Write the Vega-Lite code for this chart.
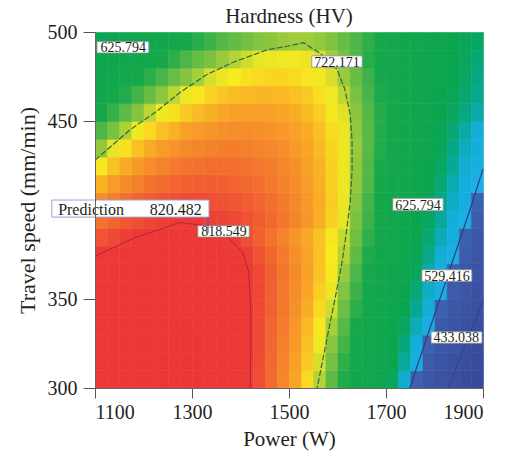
{
  "$schema": "https://vega.github.io/schema/vega-lite/v6.json",
  "width": 388,
  "height": 356,
  "autosize": {"type": "none"},
  "padding": {"left": 95, "top": 32, "right": 27, "bottom": 74},
  "title": {"text": "Hardness (HV)", "font": "Liberation Serif", "fontSize": 21, "fontWeight": "normal", "color": "#231f20", "offset": -5},
  "config": {
    "view": {"stroke": null},
    "axis": {"labelFont": "Liberation Serif", "titleFont": "Liberation Serif", "labelFontSize": 20, "titleFontSize": 21, "titleFontWeight": "normal", "labelColor": "#231f20", "titleColor": "#231f20", "tickColor": "#555555", "domainColor": "#666666", "grid": false},
    "axisX": {"tickSize": 10, "labelPadding": 4, "titlePadding": 6},
    "axisY": {"tickSize": 12, "labelPadding": 6, "titlePadding": 8, "titleFontSize": 22}
  },
  "datasets": {
    "grid": [
{"p":1100,"s":300,"h":821},{"p":1125,"s":300,"h":822},{"p":1150,"s":300,"h":823},{"p":1175,"s":300,"h":824},{"p":1200,"s":300,"h":824},{"p":1225,"s":300,"h":825},{"p":1250,"s":300,"h":825},{"p":1275,"s":300,"h":825},{"p":1300,"s":300,"h":825},{"p":1325,"s":300,"h":824},{"p":1350,"s":300,"h":823},{"p":1375,"s":300,"h":821},{"p":1400,"s":300,"h":819},{"p":1425,"s":300,"h":806},{"p":1450,"s":300,"h":790},{"p":1475,"s":300,"h":773},{"p":1500,"s":300,"h":756},{"p":1525,"s":300,"h":739},{"p":1550,"s":300,"h":722},{"p":1575,"s":300,"h":705},{"p":1600,"s":300,"h":688},{"p":1625,"s":300,"h":670},{"p":1650,"s":300,"h":653},{"p":1675,"s":300,"h":636},{"p":1700,"s":300,"h":609},{"p":1725,"s":300,"h":563},{"p":1750,"s":300,"h":522},{"p":1775,"s":300,"h":491},{"p":1800,"s":300,"h":461},{"p":1825,"s":300,"h":431},{"p":1850,"s":300,"h":400},{"p":1875,"s":300,"h":370},
{"p":1100,"s":310,"h":821},{"p":1125,"s":310,"h":822},{"p":1150,"s":310,"h":823},{"p":1175,"s":310,"h":824},{"p":1200,"s":310,"h":824},{"p":1225,"s":310,"h":825},{"p":1250,"s":310,"h":825},{"p":1275,"s":310,"h":825},{"p":1300,"s":310,"h":825},{"p":1325,"s":310,"h":824},{"p":1350,"s":310,"h":823},{"p":1375,"s":310,"h":821},{"p":1400,"s":310,"h":819},{"p":1425,"s":310,"h":807},{"p":1450,"s":310,"h":791},{"p":1475,"s":310,"h":775},{"p":1500,"s":310,"h":759},{"p":1525,"s":310,"h":743},{"p":1550,"s":310,"h":726},{"p":1575,"s":310,"h":710},{"p":1600,"s":310,"h":692},{"p":1625,"s":310,"h":675},{"p":1650,"s":310,"h":657},{"p":1675,"s":310,"h":640},{"p":1700,"s":310,"h":622},{"p":1725,"s":310,"h":582},{"p":1750,"s":310,"h":543},{"p":1775,"s":310,"h":510},{"p":1800,"s":310,"h":479},{"p":1825,"s":310,"h":449},{"p":1850,"s":310,"h":418},{"p":1875,"s":310,"h":388},
{"p":1100,"s":320,"h":821},{"p":1125,"s":320,"h":822},{"p":1150,"s":320,"h":823},{"p":1175,"s":320,"h":824},{"p":1200,"s":320,"h":824},{"p":1225,"s":320,"h":825},{"p":1250,"s":320,"h":825},{"p":1275,"s":320,"h":825},{"p":1300,"s":320,"h":825},{"p":1325,"s":320,"h":824},{"p":1350,"s":320,"h":823},{"p":1375,"s":320,"h":821},{"p":1400,"s":320,"h":819},{"p":1425,"s":320,"h":808},{"p":1450,"s":320,"h":792},{"p":1475,"s":320,"h":777},{"p":1500,"s":320,"h":762},{"p":1525,"s":320,"h":746},{"p":1550,"s":320,"h":731},{"p":1575,"s":320,"h":715},{"p":1600,"s":320,"h":698},{"p":1625,"s":320,"h":680},{"p":1650,"s":320,"h":663},{"p":1675,"s":320,"h":646},{"p":1700,"s":320,"h":628},{"p":1725,"s":320,"h":595},{"p":1750,"s":320,"h":557},{"p":1775,"s":320,"h":521},{"p":1800,"s":320,"h":493},{"p":1825,"s":320,"h":465},{"p":1850,"s":320,"h":436},{"p":1875,"s":320,"h":407},
{"p":1100,"s":330,"h":820},{"p":1125,"s":330,"h":821},{"p":1150,"s":330,"h":822},{"p":1175,"s":330,"h":823},{"p":1200,"s":330,"h":824},{"p":1225,"s":330,"h":824},{"p":1250,"s":330,"h":825},{"p":1275,"s":330,"h":825},{"p":1300,"s":330,"h":824},{"p":1325,"s":330,"h":824},{"p":1350,"s":330,"h":823},{"p":1375,"s":330,"h":821},{"p":1400,"s":330,"h":819},{"p":1425,"s":330,"h":808},{"p":1450,"s":330,"h":793},{"p":1475,"s":330,"h":779},{"p":1500,"s":330,"h":764},{"p":1525,"s":330,"h":749},{"p":1550,"s":330,"h":735},{"p":1575,"s":330,"h":720},{"p":1600,"s":330,"h":703},{"p":1625,"s":330,"h":685},{"p":1650,"s":330,"h":668},{"p":1675,"s":330,"h":651},{"p":1700,"s":330,"h":633},{"p":1725,"s":330,"h":607},{"p":1750,"s":330,"h":572},{"p":1775,"s":330,"h":536},{"p":1800,"s":330,"h":507},{"p":1825,"s":330,"h":480},{"p":1850,"s":330,"h":452},{"p":1875,"s":330,"h":425},
{"p":1100,"s":340,"h":820},{"p":1125,"s":340,"h":821},{"p":1150,"s":340,"h":822},{"p":1175,"s":340,"h":823},{"p":1200,"s":340,"h":823},{"p":1225,"s":340,"h":824},{"p":1250,"s":340,"h":824},{"p":1275,"s":340,"h":824},{"p":1300,"s":340,"h":824},{"p":1325,"s":340,"h":823},{"p":1350,"s":340,"h":822},{"p":1375,"s":340,"h":821},{"p":1400,"s":340,"h":819},{"p":1425,"s":340,"h":808},{"p":1450,"s":340,"h":795},{"p":1475,"s":340,"h":781},{"p":1500,"s":340,"h":767},{"p":1525,"s":340,"h":753},{"p":1550,"s":340,"h":739},{"p":1575,"s":340,"h":725},{"p":1600,"s":340,"h":708},{"p":1625,"s":340,"h":691},{"p":1650,"s":340,"h":673},{"p":1675,"s":340,"h":656},{"p":1700,"s":340,"h":638},{"p":1725,"s":340,"h":618},{"p":1750,"s":340,"h":585},{"p":1775,"s":340,"h":552},{"p":1800,"s":340,"h":521},{"p":1825,"s":340,"h":494},{"p":1850,"s":340,"h":467},{"p":1875,"s":340,"h":440},
{"p":1100,"s":350,"h":820},{"p":1125,"s":350,"h":821},{"p":1150,"s":350,"h":822},{"p":1175,"s":350,"h":822},{"p":1200,"s":350,"h":823},{"p":1225,"s":350,"h":823},{"p":1250,"s":350,"h":824},{"p":1275,"s":350,"h":824},{"p":1300,"s":350,"h":823},{"p":1325,"s":350,"h":823},{"p":1350,"s":350,"h":822},{"p":1375,"s":350,"h":821},{"p":1400,"s":350,"h":819},{"p":1425,"s":350,"h":809},{"p":1450,"s":350,"h":796},{"p":1475,"s":350,"h":782},{"p":1500,"s":350,"h":769},{"p":1525,"s":350,"h":756},{"p":1550,"s":350,"h":742},{"p":1575,"s":350,"h":729},{"p":1600,"s":350,"h":714},{"p":1625,"s":350,"h":696},{"p":1650,"s":350,"h":678},{"p":1675,"s":350,"h":661},{"p":1700,"s":350,"h":643},{"p":1725,"s":350,"h":626},{"p":1750,"s":350,"h":596},{"p":1775,"s":350,"h":566},{"p":1800,"s":350,"h":535},{"p":1825,"s":350,"h":508},{"p":1850,"s":350,"h":482},{"p":1875,"s":350,"h":456},
{"p":1100,"s":360,"h":819},{"p":1125,"s":360,"h":820},{"p":1150,"s":360,"h":821},{"p":1175,"s":360,"h":822},{"p":1200,"s":360,"h":822},{"p":1225,"s":360,"h":823},{"p":1250,"s":360,"h":823},{"p":1275,"s":360,"h":823},{"p":1300,"s":360,"h":823},{"p":1325,"s":360,"h":822},{"p":1350,"s":360,"h":822},{"p":1375,"s":360,"h":821},{"p":1400,"s":360,"h":819},{"p":1425,"s":360,"h":809},{"p":1450,"s":360,"h":796},{"p":1475,"s":360,"h":783},{"p":1500,"s":360,"h":771},{"p":1525,"s":360,"h":758},{"p":1550,"s":360,"h":745},{"p":1575,"s":360,"h":732},{"p":1600,"s":360,"h":718},{"p":1625,"s":360,"h":700},{"p":1650,"s":360,"h":683},{"p":1675,"s":360,"h":666},{"p":1700,"s":360,"h":648},{"p":1725,"s":360,"h":631},{"p":1750,"s":360,"h":606},{"p":1775,"s":360,"h":578},{"p":1800,"s":360,"h":549},{"p":1825,"s":360,"h":522},{"p":1850,"s":360,"h":496},{"p":1875,"s":360,"h":471},
{"p":1100,"s":370,"h":817},{"p":1125,"s":370,"h":819},{"p":1150,"s":370,"h":820},{"p":1175,"s":370,"h":821},{"p":1200,"s":370,"h":821},{"p":1225,"s":370,"h":822},{"p":1250,"s":370,"h":822},{"p":1275,"s":370,"h":822},{"p":1300,"s":370,"h":822},{"p":1325,"s":370,"h":821},{"p":1350,"s":370,"h":820},{"p":1375,"s":370,"h":819},{"p":1400,"s":370,"h":815},{"p":1425,"s":370,"h":803},{"p":1450,"s":370,"h":792},{"p":1475,"s":370,"h":780},{"p":1500,"s":370,"h":768},{"p":1525,"s":370,"h":757},{"p":1550,"s":370,"h":745},{"p":1575,"s":370,"h":734},{"p":1600,"s":370,"h":722},{"p":1625,"s":370,"h":705},{"p":1650,"s":370,"h":687},{"p":1675,"s":370,"h":670},{"p":1700,"s":370,"h":653},{"p":1725,"s":370,"h":635},{"p":1750,"s":370,"h":615},{"p":1775,"s":370,"h":588},{"p":1800,"s":370,"h":561},{"p":1825,"s":370,"h":534},{"p":1850,"s":370,"h":509},{"p":1875,"s":370,"h":484},
{"p":1100,"s":380,"h":802},{"p":1125,"s":380,"h":808},{"p":1150,"s":380,"h":813},{"p":1175,"s":380,"h":817},{"p":1200,"s":380,"h":819},{"p":1225,"s":380,"h":820},{"p":1250,"s":380,"h":821},{"p":1275,"s":380,"h":821},{"p":1300,"s":380,"h":821},{"p":1325,"s":380,"h":820},{"p":1350,"s":380,"h":819},{"p":1375,"s":380,"h":816},{"p":1400,"s":380,"h":805},{"p":1425,"s":380,"h":795},{"p":1450,"s":380,"h":785},{"p":1475,"s":380,"h":775},{"p":1500,"s":380,"h":765},{"p":1525,"s":380,"h":755},{"p":1550,"s":380,"h":745},{"p":1575,"s":380,"h":735},{"p":1600,"s":380,"h":724},{"p":1625,"s":380,"h":709},{"p":1650,"s":380,"h":692},{"p":1675,"s":380,"h":674},{"p":1700,"s":380,"h":657},{"p":1725,"s":380,"h":640},{"p":1750,"s":380,"h":622},{"p":1775,"s":380,"h":597},{"p":1800,"s":380,"h":571},{"p":1825,"s":380,"h":546},{"p":1850,"s":380,"h":521},{"p":1875,"s":380,"h":496},
{"p":1100,"s":390,"h":785},{"p":1125,"s":390,"h":793},{"p":1150,"s":390,"h":800},{"p":1175,"s":390,"h":806},{"p":1200,"s":390,"h":810},{"p":1225,"s":390,"h":813},{"p":1250,"s":390,"h":815},{"p":1275,"s":390,"h":816},{"p":1300,"s":390,"h":816},{"p":1325,"s":390,"h":814},{"p":1350,"s":390,"h":812},{"p":1375,"s":390,"h":808},{"p":1400,"s":390,"h":803},{"p":1425,"s":390,"h":798},{"p":1450,"s":390,"h":791},{"p":1475,"s":390,"h":783},{"p":1500,"s":390,"h":774},{"p":1525,"s":390,"h":764},{"p":1550,"s":390,"h":753},{"p":1575,"s":390,"h":741},{"p":1600,"s":390,"h":728},{"p":1625,"s":390,"h":712},{"p":1650,"s":390,"h":696},{"p":1675,"s":390,"h":679},{"p":1700,"s":390,"h":662},{"p":1725,"s":390,"h":645},{"p":1750,"s":390,"h":628},{"p":1775,"s":390,"h":605},{"p":1800,"s":390,"h":582},{"p":1825,"s":390,"h":558},{"p":1850,"s":390,"h":534},{"p":1875,"s":390,"h":509},
{"p":1100,"s":400,"h":769},{"p":1125,"s":400,"h":778},{"p":1150,"s":400,"h":786},{"p":1175,"s":400,"h":793},{"p":1200,"s":400,"h":798},{"p":1225,"s":400,"h":802},{"p":1250,"s":400,"h":805},{"p":1275,"s":400,"h":807},{"p":1300,"s":400,"h":807},{"p":1325,"s":400,"h":806},{"p":1350,"s":400,"h":804},{"p":1375,"s":400,"h":801},{"p":1400,"s":400,"h":798},{"p":1425,"s":400,"h":793},{"p":1450,"s":400,"h":787},{"p":1475,"s":400,"h":780},{"p":1500,"s":400,"h":772},{"p":1525,"s":400,"h":763},{"p":1550,"s":400,"h":753},{"p":1575,"s":400,"h":742},{"p":1600,"s":400,"h":729},{"p":1625,"s":400,"h":715},{"p":1650,"s":400,"h":698},{"p":1675,"s":400,"h":682},{"p":1700,"s":400,"h":665},{"p":1725,"s":400,"h":649},{"p":1750,"s":400,"h":632},{"p":1775,"s":400,"h":613},{"p":1800,"s":400,"h":590},{"p":1825,"s":400,"h":567},{"p":1850,"s":400,"h":544},{"p":1875,"s":400,"h":521},
{"p":1100,"s":410,"h":751},{"p":1125,"s":410,"h":761},{"p":1150,"s":410,"h":770},{"p":1175,"s":410,"h":777},{"p":1200,"s":410,"h":784},{"p":1225,"s":410,"h":789},{"p":1250,"s":410,"h":793},{"p":1275,"s":410,"h":795},{"p":1300,"s":410,"h":797},{"p":1325,"s":410,"h":797},{"p":1350,"s":410,"h":796},{"p":1375,"s":410,"h":794},{"p":1400,"s":410,"h":791},{"p":1425,"s":410,"h":787},{"p":1450,"s":410,"h":782},{"p":1475,"s":410,"h":776},{"p":1500,"s":410,"h":769},{"p":1525,"s":410,"h":761},{"p":1550,"s":410,"h":752},{"p":1575,"s":410,"h":741},{"p":1600,"s":410,"h":730},{"p":1625,"s":410,"h":717},{"p":1650,"s":410,"h":701},{"p":1675,"s":410,"h":685},{"p":1700,"s":410,"h":669},{"p":1725,"s":410,"h":653},{"p":1750,"s":410,"h":637},{"p":1775,"s":410,"h":619},{"p":1800,"s":410,"h":597},{"p":1825,"s":410,"h":575},{"p":1850,"s":410,"h":553},{"p":1875,"s":410,"h":532},
{"p":1100,"s":420,"h":735},{"p":1125,"s":420,"h":745},{"p":1150,"s":420,"h":754},{"p":1175,"s":420,"h":762},{"p":1200,"s":420,"h":769},{"p":1225,"s":420,"h":775},{"p":1250,"s":420,"h":780},{"p":1275,"s":420,"h":784},{"p":1300,"s":420,"h":786},{"p":1325,"s":420,"h":788},{"p":1350,"s":420,"h":788},{"p":1375,"s":420,"h":787},{"p":1400,"s":420,"h":785},{"p":1425,"s":420,"h":782},{"p":1450,"s":420,"h":778},{"p":1475,"s":420,"h":773},{"p":1500,"s":420,"h":767},{"p":1525,"s":420,"h":759},{"p":1550,"s":420,"h":751},{"p":1575,"s":420,"h":741},{"p":1600,"s":420,"h":730},{"p":1625,"s":420,"h":717},{"p":1650,"s":420,"h":702},{"p":1675,"s":420,"h":686},{"p":1700,"s":420,"h":671},{"p":1725,"s":420,"h":656},{"p":1750,"s":420,"h":640},{"p":1775,"s":420,"h":625},{"p":1800,"s":420,"h":604},{"p":1825,"s":420,"h":583},{"p":1850,"s":420,"h":562},{"p":1875,"s":420,"h":541},
{"p":1100,"s":430,"h":717},{"p":1125,"s":430,"h":728},{"p":1150,"s":430,"h":737},{"p":1175,"s":430,"h":746},{"p":1200,"s":430,"h":754},{"p":1225,"s":430,"h":761},{"p":1250,"s":430,"h":766},{"p":1275,"s":430,"h":771},{"p":1300,"s":430,"h":774},{"p":1325,"s":430,"h":776},{"p":1350,"s":430,"h":778},{"p":1375,"s":430,"h":778},{"p":1400,"s":430,"h":777},{"p":1425,"s":430,"h":775},{"p":1450,"s":430,"h":772},{"p":1475,"s":430,"h":768},{"p":1500,"s":430,"h":762},{"p":1525,"s":430,"h":756},{"p":1550,"s":430,"h":748},{"p":1575,"s":430,"h":740},{"p":1600,"s":430,"h":730},{"p":1625,"s":430,"h":718},{"p":1650,"s":430,"h":703},{"p":1675,"s":430,"h":688},{"p":1700,"s":430,"h":674},{"p":1725,"s":430,"h":659},{"p":1750,"s":430,"h":644},{"p":1775,"s":430,"h":629},{"p":1800,"s":430,"h":610},{"p":1825,"s":430,"h":590},{"p":1850,"s":430,"h":570},{"p":1875,"s":430,"h":550},
{"p":1100,"s":440,"h":700},{"p":1125,"s":440,"h":711},{"p":1150,"s":440,"h":721},{"p":1175,"s":440,"h":731},{"p":1200,"s":440,"h":739},{"p":1225,"s":440,"h":746},{"p":1250,"s":440,"h":752},{"p":1275,"s":440,"h":758},{"p":1300,"s":440,"h":762},{"p":1325,"s":440,"h":765},{"p":1350,"s":440,"h":767},{"p":1375,"s":440,"h":769},{"p":1400,"s":440,"h":769},{"p":1425,"s":440,"h":768},{"p":1450,"s":440,"h":766},{"p":1475,"s":440,"h":763},{"p":1500,"s":440,"h":758},{"p":1525,"s":440,"h":753},{"p":1550,"s":440,"h":746},{"p":1575,"s":440,"h":738},{"p":1600,"s":440,"h":729},{"p":1625,"s":440,"h":717},{"p":1650,"s":440,"h":703},{"p":1675,"s":440,"h":689},{"p":1700,"s":440,"h":675},{"p":1725,"s":440,"h":661},{"p":1750,"s":440,"h":647},{"p":1775,"s":440,"h":633},{"p":1800,"s":440,"h":615},{"p":1825,"s":440,"h":597},{"p":1850,"s":440,"h":579},{"p":1875,"s":440,"h":561},
{"p":1100,"s":450,"h":682},{"p":1125,"s":450,"h":694},{"p":1150,"s":450,"h":704},{"p":1175,"s":450,"h":714},{"p":1200,"s":450,"h":723},{"p":1225,"s":450,"h":731},{"p":1250,"s":450,"h":737},{"p":1275,"s":450,"h":743},{"p":1300,"s":450,"h":748},{"p":1325,"s":450,"h":752},{"p":1350,"s":450,"h":755},{"p":1375,"s":450,"h":758},{"p":1400,"s":450,"h":759},{"p":1425,"s":450,"h":759},{"p":1450,"s":450,"h":758},{"p":1475,"s":450,"h":756},{"p":1500,"s":450,"h":753},{"p":1525,"s":450,"h":748},{"p":1550,"s":450,"h":742},{"p":1575,"s":450,"h":735},{"p":1600,"s":450,"h":727},{"p":1625,"s":450,"h":716},{"p":1650,"s":450,"h":702},{"p":1675,"s":450,"h":689},{"p":1700,"s":450,"h":676},{"p":1725,"s":450,"h":663},{"p":1750,"s":450,"h":649},{"p":1775,"s":450,"h":636},{"p":1800,"s":450,"h":623},{"p":1825,"s":450,"h":608},{"p":1850,"s":450,"h":592},{"p":1875,"s":450,"h":577},
{"p":1100,"s":460,"h":665},{"p":1125,"s":460,"h":677},{"p":1150,"s":460,"h":688},{"p":1175,"s":460,"h":698},{"p":1200,"s":460,"h":707},{"p":1225,"s":460,"h":716},{"p":1250,"s":460,"h":723},{"p":1275,"s":460,"h":730},{"p":1300,"s":460,"h":735},{"p":1325,"s":460,"h":740},{"p":1350,"s":460,"h":744},{"p":1375,"s":460,"h":747},{"p":1400,"s":460,"h":749},{"p":1425,"s":460,"h":750},{"p":1450,"s":460,"h":750},{"p":1475,"s":460,"h":749},{"p":1500,"s":460,"h":746},{"p":1525,"s":460,"h":743},{"p":1550,"s":460,"h":737},{"p":1575,"s":460,"h":731},{"p":1600,"s":460,"h":723},{"p":1625,"s":460,"h":711},{"p":1650,"s":460,"h":699},{"p":1675,"s":460,"h":687},{"p":1700,"s":460,"h":675},{"p":1725,"s":460,"h":663},{"p":1750,"s":460,"h":650},{"p":1775,"s":460,"h":638},{"p":1800,"s":460,"h":626},{"p":1825,"s":460,"h":613},{"p":1850,"s":460,"h":600},{"p":1875,"s":460,"h":586},
{"p":1100,"s":470,"h":647},{"p":1125,"s":470,"h":659},{"p":1150,"s":470,"h":671},{"p":1175,"s":470,"h":681},{"p":1200,"s":470,"h":691},{"p":1225,"s":470,"h":699},{"p":1250,"s":470,"h":707},{"p":1275,"s":470,"h":714},{"p":1300,"s":470,"h":720},{"p":1325,"s":470,"h":726},{"p":1350,"s":470,"h":730},{"p":1375,"s":470,"h":734},{"p":1400,"s":470,"h":737},{"p":1425,"s":470,"h":739},{"p":1450,"s":470,"h":740},{"p":1475,"s":470,"h":740},{"p":1500,"s":470,"h":739},{"p":1525,"s":470,"h":736},{"p":1550,"s":470,"h":732},{"p":1575,"s":470,"h":726},{"p":1600,"s":470,"h":718},{"p":1625,"s":470,"h":707},{"p":1650,"s":470,"h":696},{"p":1675,"s":470,"h":685},{"p":1700,"s":470,"h":674},{"p":1725,"s":470,"h":663},{"p":1750,"s":470,"h":652},{"p":1775,"s":470,"h":640},{"p":1800,"s":470,"h":629},{"p":1825,"s":470,"h":617},{"p":1850,"s":470,"h":604},{"p":1875,"s":470,"h":591},
{"p":1100,"s":480,"h":630},{"p":1125,"s":480,"h":643},{"p":1150,"s":480,"h":654},{"p":1175,"s":480,"h":665},{"p":1200,"s":480,"h":675},{"p":1225,"s":480,"h":684},{"p":1250,"s":480,"h":692},{"p":1275,"s":480,"h":700},{"p":1300,"s":480,"h":707},{"p":1325,"s":480,"h":712},{"p":1350,"s":480,"h":718},{"p":1375,"s":480,"h":722},{"p":1400,"s":480,"h":725},{"p":1425,"s":480,"h":728},{"p":1450,"s":480,"h":730},{"p":1475,"s":480,"h":731},{"p":1500,"s":480,"h":731},{"p":1525,"s":480,"h":729},{"p":1550,"s":480,"h":726},{"p":1575,"s":480,"h":719},{"p":1600,"s":480,"h":710},{"p":1625,"s":480,"h":700},{"p":1650,"s":480,"h":690},{"p":1675,"s":480,"h":680},{"p":1700,"s":480,"h":671},{"p":1725,"s":480,"h":661},{"p":1750,"s":480,"h":651},{"p":1775,"s":480,"h":641},{"p":1800,"s":480,"h":632},{"p":1825,"s":480,"h":621},{"p":1850,"s":480,"h":609},{"p":1875,"s":480,"h":596},
{"p":1100,"s":490,"h":612},{"p":1125,"s":490,"h":625},{"p":1150,"s":490,"h":636},{"p":1175,"s":490,"h":647},{"p":1200,"s":490,"h":657},{"p":1225,"s":490,"h":666},{"p":1250,"s":490,"h":675},{"p":1275,"s":490,"h":683},{"p":1300,"s":490,"h":690},{"p":1325,"s":490,"h":696},{"p":1350,"s":490,"h":702},{"p":1375,"s":490,"h":706},{"p":1400,"s":490,"h":710},{"p":1425,"s":490,"h":714},{"p":1450,"s":490,"h":716},{"p":1475,"s":490,"h":718},{"p":1500,"s":490,"h":719},{"p":1525,"s":490,"h":719},{"p":1550,"s":490,"h":717},{"p":1575,"s":490,"h":713},{"p":1600,"s":490,"h":707},{"p":1625,"s":490,"h":700},{"p":1650,"s":490,"h":692},{"p":1675,"s":490,"h":683},{"p":1700,"s":490,"h":674},{"p":1725,"s":490,"h":665},{"p":1750,"s":490,"h":655},{"p":1775,"s":490,"h":645},{"p":1800,"s":490,"h":635},{"p":1825,"s":490,"h":625},{"p":1850,"s":490,"h":614},{"p":1875,"s":490,"h":603}
    ],
    "c818": [{"p":1100,"s":374,"o":1},{"p":1178,"s":384,"o":2},{"p":1275,"s":393,"o":3},{"p":1331,"s":391,"o":4},{"p":1372,"s":385,"o":5},{"p":1405,"s":376,"o":6},{"p":1417,"s":365,"o":7},{"p":1421,"s":345,"o":8},{"p":1421,"s":320,"o":9},{"p":1420,"s":300,"o":10}],
    "c722": [{"p":1100,"s":428,"o":1},{"p":1172,"s":445,"o":2},{"p":1230,"s":456,"o":3},{"p":1275,"s":466,"o":4},{"p":1330,"s":476,"o":5},{"p":1385,"s":483,"o":6},{"p":1455,"s":490,"o":7},{"p":1496,"s":492,"o":8},{"p":1530,"s":494,"o":9},{"p":1564,"s":488,"o":10},{"p":1599,"s":479,"o":11},{"p":1615,"s":468,"o":12},{"p":1626,"s":454,"o":13},{"p":1630,"s":439,"o":14},{"p":1630,"s":422,"o":15},{"p":1626,"s":404,"o":16},{"p":1618,"s":387,"o":17},{"p":1609,"s":370,"o":18},{"p":1597,"s":353,"o":19},{"p":1585,"s":337,"o":20},{"p":1572,"s":319,"o":21},{"p":1558,"s":300,"o":22}],
    "c529": [{"p":1749,"s":300,"o":1},{"p":1811,"s":350,"o":2},{"p":1873,"s":400,"o":3},{"p":1900,"s":423,"o":4}],
    "c433": [{"p":1828,"s":300,"o":1},{"p":1900,"s":349,"o":2}],
    "labels": [
      {"t":"625.794","p":1158,"s":491.3,"p1":1104,"p2":1211,"s1":488.2,"s2":494.6},
      {"t":"722.171","p":1599,"s":483.4,"p1":1547,"p2":1651,"s1":480.2,"s2":486.6},
      {"t":"625.794","p":1766,"s":403,"p1":1714,"p2":1818,"s1":399.6,"s2":406.6},
      {"t":"529.416","p":1826,"s":363,"p1":1774,"p2":1877,"s1":359.8,"s2":366.4},
      {"t":"433.038","p":1845,"s":328.4,"p1":1793,"p2":1898,"s1":325.2,"s2":331.6},
      {"t":"818.549","p":1366,"s":388,"p1":1312,"p2":1418,"s1":384.8,"s2":391.2}
    ],
    "pred": [{"p1":1011,"p2":1335,"s1":396,"s2":405.6}],
    "predtext": [{"t":"Prediction","p":1024,"s":400.6},{"t":"820.482","p":1213,"s":400.6}],
    "marker": [{"p":1333,"s":396,"s2":387}]
  },
  "layer": [
    {
      "data": {"name": "grid"},
      "mark": {"type": "rect", "binSpacing": 0, "strokeWidth": 0.6},
      "encoding": {
        "x": {"field": "p", "type": "quantitative", "bin": {"binned": true, "step": 25}, "title": "Power (W)",
              "scale": {"domain": [1100, 1900], "nice": false, "zero": false},
              "axis": {"values": [1100, 1300, 1500, 1700, 1900], "format": "d"}},
        "y": {"field": "s", "type": "quantitative", "bin": {"binned": true, "step": 10}, "title": "Travel speed (mm/min)",
              "scale": {"domain": [300, 500], "nice": false, "zero": false},
              "axis": {"values": [300, 350, 450, 500], "format": "d"}},
        "color": {"field": "h", "type": "quantitative", "legend": null,
                  "scale": {"domain": [370,433,500,529,531,560,585,605,620,685,700,716,722,728,734,744,756,772,792,806,816,830],
                            "range": ["#394a9a","#3a4f9f","#3b58a7","#3d64b0","#1baee5","#12aed8","#07a893","#08a660","#0ba54f","#16a84b","#4cb648","#8cc63f","#b5d334","#e8e426","#f8eb1e","#f9c623","#f8a526","#f5882b","#f2672f","#ef4d34","#ec3b36","#ec3537"],
                            "interpolate": "rgb"}},
        "stroke": {"field": "h", "type": "quantitative", "legend": null,
                  "scale": {"domain": [370,433,500,529,531,560,585,605,620,685,700,716,722,728,734,744,756,772,792,806,816,830],
                            "range": ["#394a9a","#3a4f9f","#3b58a7","#3d64b0","#1baee5","#12aed8","#07a893","#08a660","#0ba54f","#16a84b","#4cb648","#8cc63f","#b5d334","#e8e426","#f8eb1e","#f9c623","#f8a526","#f5882b","#f2672f","#ef4d34","#ec3b36","#ec3537"],
                            "interpolate": "rgb"}}
      }
    },
    {
      "data": {"name": "c818"},
      "mark": {"type": "line", "color": "#b5223a", "strokeWidth": 1},
      "encoding": {"x": {"field": "p", "type": "quantitative", "title": "Power (W)"}, "y": {"field": "s", "type": "quantitative", "title": "Travel speed (mm/min)"}, "order": {"field": "o"}}
    },
    {
      "data": {"name": "c722"},
      "mark": {"type": "line", "color": "#2b6b45", "strokeWidth": 1.2, "strokeDash": [6, 2]},
      "encoding": {"x": {"field": "p", "type": "quantitative", "title": "Power (W)"}, "y": {"field": "s", "type": "quantitative", "title": "Travel speed (mm/min)"}, "order": {"field": "o"}}
    },
    {
      "data": {"name": "c529"},
      "mark": {"type": "line", "color": "#27408d", "strokeWidth": 1.2},
      "encoding": {"x": {"field": "p", "type": "quantitative", "title": "Power (W)"}, "y": {"field": "s", "type": "quantitative", "title": "Travel speed (mm/min)"}, "order": {"field": "o"}}
    },
    {
      "data": {"name": "c433"},
      "mark": {"type": "line", "color": "#2e4290", "strokeWidth": 1},
      "encoding": {"x": {"field": "p", "type": "quantitative", "title": "Power (W)"}, "y": {"field": "s", "type": "quantitative", "title": "Travel speed (mm/min)"}, "order": {"field": "o"}}
    },
    {
      "data": {"name": "labels"},
      "mark": {"type": "rect", "fill": "#ffffff", "stroke": "#8a8a8a", "strokeWidth": 0.8},
      "encoding": {"x": {"field": "p1", "type": "quantitative", "title": "Power (W)"}, "x2": {"field": "p2"}, "y": {"field": "s1", "type": "quantitative", "title": "Travel speed (mm/min)"}, "y2": {"field": "s2"}}
    },
    {
      "data": {"name": "pred"},
      "mark": {"type": "rect", "fill": "#ffffff", "stroke": "#9da3cf", "strokeWidth": 1},
      "encoding": {"x": {"field": "p1", "type": "quantitative", "title": "Power (W)"}, "x2": {"field": "p2"}, "y": {"field": "s1", "type": "quantitative", "title": "Travel speed (mm/min)"}, "y2": {"field": "s2"}}
    },
    {
      "data": {"name": "labels"},
      "mark": {"type": "text", "font": "Liberation Serif", "fontSize": 14, "color": "#231f20", "align": "center", "baseline": "middle", "dy": 1},
      "encoding": {"x": {"field": "p", "type": "quantitative", "title": "Power (W)"}, "y": {"field": "s", "type": "quantitative", "title": "Travel speed (mm/min)"}, "text": {"field": "t"}}
    },
    {
      "data": {"name": "predtext"},
      "mark": {"type": "text", "font": "Liberation Serif", "fontSize": 16, "color": "#231f20", "align": "left", "baseline": "middle", "dy": 1},
      "encoding": {"x": {"field": "p", "type": "quantitative", "title": "Power (W)"}, "y": {"field": "s", "type": "quantitative", "title": "Travel speed (mm/min)"}, "text": {"field": "t"}}
    },
    {
      "data": {"name": "marker"},
      "mark": {"type": "rule", "color": "#5a5fb0", "strokeWidth": 1.2},
      "encoding": {"x": {"field": "p", "type": "quantitative", "title": "Power (W)"}, "y": {"field": "s", "type": "quantitative", "title": "Travel speed (mm/min)"}, "y2": {"field": "s2"}}
    }
  ]
}
